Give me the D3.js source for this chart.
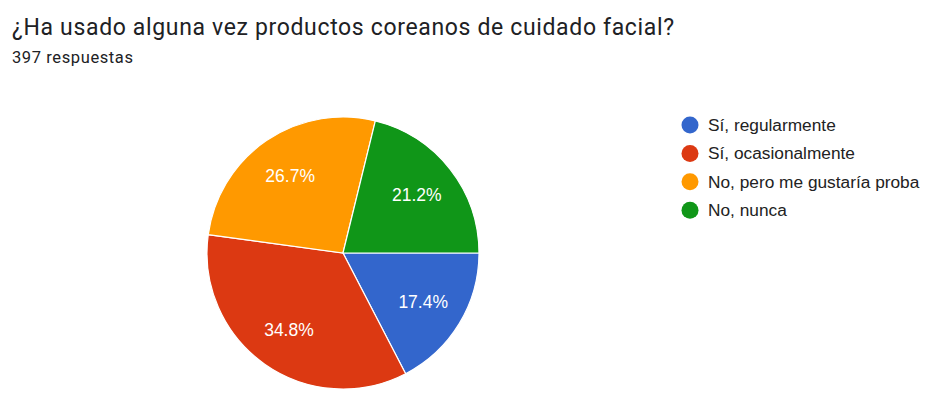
<!DOCTYPE html>
<html>
<head>
<meta charset="utf-8">
<script src="https://cdn.jsdelivr.net/npm/d3@7"></script>
<style>
  html, body { margin: 0; padding: 0; background: #fff; overflow: hidden; }
  svg { display: block; }
</style>
</head>
<body>
<svg id="chart" width="928" height="412"></svg>
<script>
// Survey answers and their shares (%)
const categories = ["Sí, regularmente", "Sí, ocasionalmente", "No, pero me gustaría proba", "No, nunca"];
const values = [17.4, 34.8, 26.7, 21.2];
const colors = ["#3366cc", "#dc3912", "#ff9900", "#109618"];
const title = "¿Ha usado alguna vez productos coreanos de cuidado facial?";
const subtitle = "397 respuestas";

const svg = d3.select("#chart");

svg.append("text")
  .attr("x", 12).attr("y", 35)
  .attr("font-family", "Roboto, 'Noto Sans', sans-serif")
  .attr("font-size", 23)
  .attr("letter-spacing", 0.65)
  .attr("fill", "#202124")
  .text(title);

svg.append("text")
  .attr("x", 12).attr("y", 63)
  .attr("font-family", "Roboto, 'Noto Sans', sans-serif")
  .attr("font-size", 16.5)
  .attr("letter-spacing", 0.6)
  .attr("fill", "#202124")
  .text(subtitle);

const cx = 343, cy = 253, radius = 136;
const color = d3.scaleOrdinal().domain(categories).range(colors);

// Slices run clockwise starting at 3 o'clock
const pie = d3.pie()
  .sort(null)
  .value(d => d.value)
  .startAngle(Math.PI / 2)
  .endAngle(Math.PI / 2 + 2 * Math.PI);

const data = categories.map((c, i) => ({ name: c, value: values[i] }));
const arcs = pie(data);

const arc = d3.arc().innerRadius(0).outerRadius(radius);
const labelArc = d3.arc().innerRadius(radius * 0.69).outerRadius(radius * 0.69);

const g = svg.append("g").attr("transform", `translate(${cx},${cy})`);

g.selectAll("path.slice")
  .data(arcs)
  .join("path")
  .attr("class", "slice")
  .attr("d", arc)
  .attr("fill", d => color(d.data.name))
  .attr("stroke", "#fff")
  .attr("stroke-width", 1.2);

g.selectAll("text.pct")
  .data(arcs)
  .join("text")
  .attr("class", "pct")
  .attr("transform", d => `translate(${labelArc.centroid(d)})`)
  .attr("text-anchor", "middle")
  .attr("dy", "0.35em")
  .attr("font-family", "'Liberation Sans', Arial, sans-serif")
  .attr("font-size", 17.5)
  .attr("fill", "#fff")
  .text(d => d.data.value.toFixed(1) + "%");

// Legend
const legend = svg.append("g").attr("transform", "translate(690,125)");
const item = legend.selectAll("g.item")
  .data(categories)
  .join("g")
  .attr("class", "item")
  .attr("transform", (d, i) => `translate(0,${i * 28.4})`);

item.append("circle")
  .attr("r", 8.5)
  .attr("fill", d => color(d));

item.append("text")
  .attr("x", 18)
  .attr("dy", "0.35em")
  .attr("font-family", "'Liberation Sans', Arial, sans-serif")
  .attr("font-size", 17.3)
  .attr("fill", "#222")
  .text(d => d);
</script>
</body>
</html>
